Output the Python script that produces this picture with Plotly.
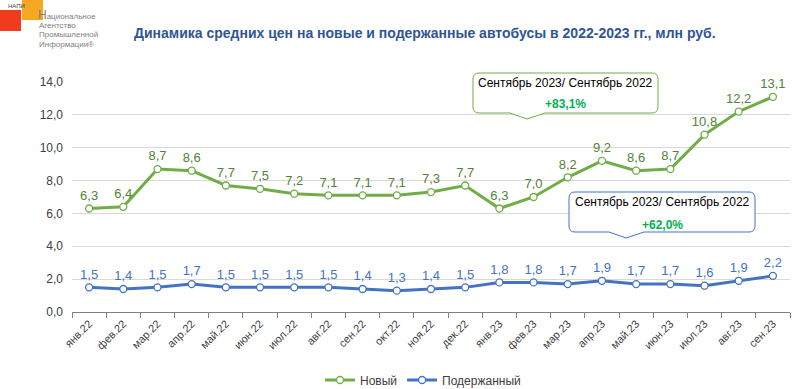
import plotly.graph_objects as go

months = ["янв.22", "фев.22", "мар.22", "апр.22", "май.22", "июн.22", "июл.22", "авг.22",
          "сен.22", "окт.22", "ноя.22", "дек.22", "янв.23", "фев.23", "мар.23", "апр.23",
          "май.23", "июн.23", "июл.23", "авг.23", "сен.23"]
new_prices = [6.3, 6.4, 8.7, 8.6, 7.7, 7.5, 7.2, 7.1, 7.1, 7.1, 7.3, 7.7, 6.3, 7.0, 8.2, 9.2,
              8.6, 8.7, 10.8, 12.2, 13.1]
used_prices = [1.5, 1.4, 1.5, 1.7, 1.5, 1.5, 1.5, 1.5, 1.4, 1.3, 1.4, 1.5, 1.8, 1.8, 1.7, 1.9,
               1.7, 1.7, 1.6, 1.9, 2.2]
y_ticks = [0, 2, 4, 6, 8, 10, 12, 14]
new_change = "+83,1%"
used_change = "+62,0%"
period_text = "Сентябрь 2023/ Сентябрь 2022"

W, H = 801, 389
ML, MR, MT, MB = 72, 11, 82, 77
PW, PH = W - ML - MR, H - MT - MB

GREEN = "#70AD47"
GREEN_TXT = "#548235"
BLUE = "#4472C4"


def fmt(v):
    return f"{v:.1f}".replace(".", ",")


def px(x):
    return (x - ML) / PW


def py(y):
    return (H - MB - y) / PH


fig = go.Figure()
fig.add_trace(go.Scatter(
    x=months, y=new_prices, name="Новый", mode="lines+markers+text",
    line=dict(color=GREEN, width=3),
    marker=dict(symbol="circle", size=7, color="white", line=dict(color=GREEN, width=1.3)),
    text=[fmt(v) for v in new_prices], textposition="top center",
    textfont=dict(family="Arial", size=13, color=GREEN_TXT),
    cliponaxis=False,
))
fig.add_trace(go.Scatter(
    x=months, y=used_prices, name="Подержанный", mode="lines+markers+text",
    line=dict(color=BLUE, width=3),
    marker=dict(symbol="circle", size=7, color="white", line=dict(color=BLUE, width=1.3)),
    text=[fmt(v) for v in used_prices], textposition="top center",
    textfont=dict(family="Arial", size=13, color=BLUE),
    cliponaxis=False,
))


def callout(x0, x1, y0, y1, tipx, tipy, color):
    r = 6
    b1 = tipx - 17
    b2 = tipx + 18
    path = (f"M {px(x0 + r)},{py(y0)} L {px(x1 - r)},{py(y0)} "
            f"Q {px(x1)},{py(y0)} {px(x1)},{py(y0 + r)} "
            f"L {px(x1)},{py(y1 - r)} Q {px(x1)},{py(y1)} {px(x1 - r)},{py(y1)} "
            f"L {px(b2)},{py(y1)} L {px(tipx)},{py(tipy)} L {px(b1)},{py(y1)} "
            f"L {px(x0 + r)},{py(y1)} Q {px(x0)},{py(y1)} {px(x0)},{py(y1 - r)} "
            f"L {px(x0)},{py(y0 + r)} Q {px(x0)},{py(y0)} {px(x0 + r)},{py(y0)} Z")
    fig.add_shape(type="path", path=path, xref="paper", yref="paper",
                  line=dict(color=color, width=1), fillcolor="white", layer="above")


callout(473, 658, 73, 113, 527, 119, GREEN)
callout(569, 755, 192, 232, 626, 238, BLUE)

anns = [
    dict(x=px(565), y=py(83), text=period_text, font=dict(size=12, color="#000000")),
    dict(x=px(565), y=py(104), text=f"<b>{new_change}</b>", font=dict(size=12, color="#00B050")),
    dict(x=px(662), y=py(202), text=period_text, font=dict(size=12, color="#000000")),
    dict(x=px(662), y=py(225), text=f"<b>{used_change}</b>", font=dict(size=12, color="#00B050")),
    # title
    dict(x=px(425), y=py(33), text="<b>Динамика средних цен на новые и подержанные автобусы в 2022-2023 гг., млн руб.</b>",
         font=dict(size=14, color="#2F5597")),
    # logo texts
    dict(x=px(6), y=py(6), text="НАПИ", font=dict(size=6, color="#404040"), xanchor="left"),
    dict(x=px(36), y=py(15), text="<span style='font-size:12px'>Н</span>ациональное",
         font=dict(size=8, color="#7F7F7F"), xanchor="left"),
    dict(x=px(37), y=py(25), text="Агентство", font=dict(size=8, color="#7F7F7F"), xanchor="left"),
    dict(x=px(37), y=py(34.5), text="Промышленной", font=dict(size=8, color="#7F7F7F"), xanchor="left"),
    dict(x=px(37), y=py(44), text="Информации®", font=dict(size=8, color="#7F7F7F"), xanchor="left"),
]
for a in anns:
    a.setdefault("xanchor", "center")
    fig.add_annotation(xref="paper", yref="paper", showarrow=False, yanchor="middle",
                       **{k: v for k, v in a.items() if k != "font"},
                       font=dict(family="Arial", **a["font"]))

# logo squares
fig.add_shape(type="rect", xref="paper", yref="paper", x0=px(0), x1=px(21), y0=py(10), y1=py(31),
              fillcolor="#F03C1E", line=dict(width=0), layer="below")
fig.add_shape(type="rect", xref="paper", yref="paper", x0=px(22), x1=px(43), y0=py(0), y1=py(20),
              fillcolor="#F7A823", line=dict(width=0), layer="below")

fig.update_layout(
    width=W, height=H,
    margin=dict(l=ML, r=MR, t=MT, b=MB, autoexpand=False),
    paper_bgcolor="white", plot_bgcolor="white",
    separators=", ",
    font=dict(family="Arial", color="#404040"),
    showlegend=True,
    legend=dict(orientation="h", x=423 / W, xanchor="center", xref="container",
                y=1 - 380 / H, yanchor="middle", yref="container",
                font=dict(family="Arial", size=12, color="#404040"), itemwidth=30),
    xaxis=dict(type="category", range=[-0.5, len(months) - 0.5], tickangle=-45,
               tickson="boundaries", ticks="outside",
               ticklen=5, tickcolor="#808080", showline=True, linecolor="#808080",
               linewidth=1, showgrid=False, automargin=False,
               tickfont=dict(family="Arial", size=11, color="#404040")),
    yaxis=dict(range=[0, 14], tickvals=y_ticks, tickformat=".1f", showgrid=True,
               gridcolor="#D9D9D9", gridwidth=1, zeroline=False, showline=False,
               ticks="", automargin=False, ticklabelstandoff=8,
               tickfont=dict(family="Arial", size=12, color="#404040")),
)

fig.write_html("out.html", config={"displayModeBar": False},
               post_script="document.body.style.margin='0';document.body.style.overflow='hidden';")
